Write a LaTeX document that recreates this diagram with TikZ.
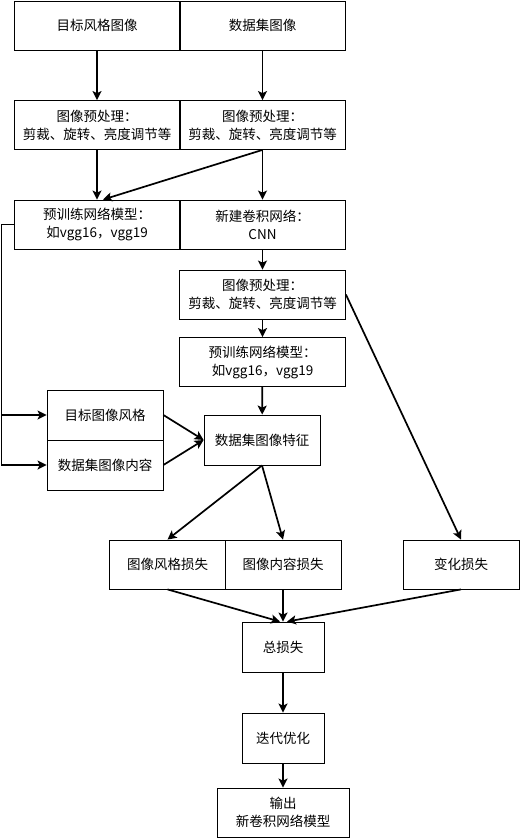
\documentclass[tikz,border=0pt]{standalone}
\usepackage{fontspec}
\setmainfont{Noto Sans CJK SC}
\usetikzlibrary{shapes,arrows,arrows.meta}
\tikzset{
	procbox/.style={draw, line width=0.8pt, minimum width=166pt, minimum height=49pt, inner sep=0pt, align=center, font=\fontsize{13.5}{18}\selectfont},
	smallbox/.style={procbox, minimum width=116pt, minimum height=50pt},
	flow/.style={line width=1.7pt, -{Stealth[length=9pt, width=9pt, inset=2pt]}}
}
\begin{document}
\begin{tikzpicture}[x=1pt, y=-1pt]
		\useasboundingbox (0,0) rectangle (521,840);
		\node[procbox] (tgt) at (97,25.5) {目标风格图像};
		\node[procbox] (data) at (262.5,25.5) {数据集图像};
		\node[procbox] (preA) at (97,125) {图像预处理：\\剪裁、旋转、亮度调节等};
		\node[procbox] (preB) at (262.5,125) {图像预处理：\\剪裁、旋转、亮度调节等};
		\node[procbox] (ptA) at (97,224.5) {预训练网络模型：\\如vgg16，vgg19};
		\node[procbox] (cnn) at (262.5,224.5) {新建卷积网络：\\CNN};
		\node[procbox] (preC) at (262.5,294.5) {图像预处理：\\剪裁、旋转、亮度调节等};
		\node[procbox] (ptB) at (262.5,362) {预训练网络模型：\\如vgg16，vgg19};
		\node[smallbox] (tstyle) at (105,415) {目标图像风格};
		\node[smallbox] (dcontent) at (105,465) {数据集图像内容};
		\node[smallbox] (feat) at (262,440) {数据集图像特征};
		\node[smallbox, minimum height=49pt] (sloss) at (167.5,564.5) {图像风格损失};
		\node[smallbox, minimum height=49pt] (closs) at (283,564.5) {图像内容损失};
		\node[smallbox, minimum height=49pt] (vloss) at (461,564.5) {变化损失};
		\node[smallbox, minimum width=82pt] (total) at (283,647) {总损失};
		\node[smallbox, minimum width=82pt] (iter) at (283,738) {迭代优化};
		\node[procbox, minimum width=132pt] (out) at (283,812.5) {输出\\新卷积网络模型};
		\draw[flow] (tgt) -- (preA);
		\draw[flow] (data) -- (preB);
		\draw[flow] (preA) -- (ptA);
		\draw[flow] (preB) -- (cnn);
		\draw[flow] (preB.south) -- ([xshift=6pt]ptA.north);
		\draw[flow] (cnn) -- (preC);
		\draw[flow] (preC) -- (ptB);
		\draw[flow] (ptB) -- (feat);
		\draw[flow] (ptA.west) -- ++(-12,0) |- (tstyle.west);
		\draw[flow] (ptA.west) -- ++(-12,0) |- (dcontent.west);
		\draw[flow] (tstyle.east) -- (feat.west);
		\draw[flow] (dcontent.east) -- (feat.west);
		\draw[flow] (feat.south) -- (sloss.north);
		\draw[flow] (feat.south) -- (closs.north);
		\draw[flow] (preC.east) -- (vloss.north);
		\draw[flow] (sloss.south) -- ([xshift=-3pt]total.north);
		\draw[flow] (closs.south) -- (total.north);
		\draw[flow] (vloss.south) -- ([xshift=4pt]total.north);
		\draw[flow] (total) -- (iter);
		\draw[flow] (iter) -- (out);
	\end{tikzpicture}
\end{document}
